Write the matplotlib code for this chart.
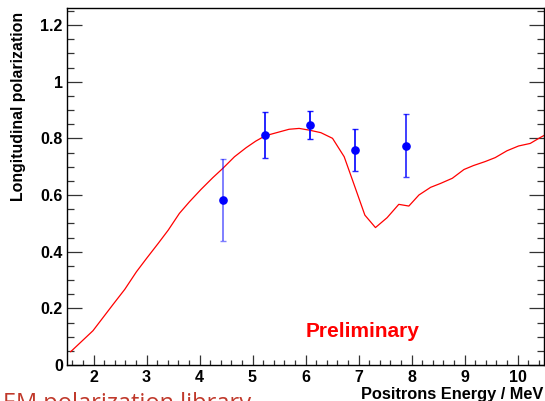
import numpy as np
import matplotlib
matplotlib.use("Agg")
import matplotlib.pyplot as plt
from matplotlib.ticker import MultipleLocator

plt.rcParams['font.family'] = ['Liberation Sans', 'DejaVu Sans']

# simulation curve (red line)
sim_e = [1.57, 1.99, 2.37, 2.59, 2.81, 3.00, 3.22, 3.41, 3.62, 3.81, 4.03, 4.25,
         4.44, 4.66, 4.88, 5.06, 5.24, 5.475, 5.69, 5.88, 6.07, 6.29, 6.51, 6.73,
         6.92, 7.12, 7.32, 7.54, 7.76, 7.95, 8.14, 8.36, 8.55, 8.77, 8.99, 9.17,
         9.39, 9.58, 9.80, 10.02, 10.24, 10.43, 10.5]
sim_pol = [0.047, 0.121, 0.214, 0.267, 0.329, 0.376, 0.429, 0.476, 0.535, 0.576,
           0.620, 0.661, 0.694, 0.735, 0.767, 0.790, 0.809, 0.821, 0.832, 0.835,
           0.829, 0.820, 0.800, 0.735, 0.635, 0.529, 0.485, 0.520, 0.567, 0.561,
           0.600, 0.627, 0.641, 0.659, 0.690, 0.704, 0.718, 0.732, 0.756, 0.773,
           0.782, 0.803, 0.810]

# measured points
meas_e = [4.45, 5.24, 6.09, 6.93, 7.89]
meas_pol = [0.582, 0.812, 0.847, 0.759, 0.774]
meas_err = [0.146, 0.082, 0.051, 0.074, 0.111]
err_alpha = [0.5, 0.85, 0.9, 0.85, 0.75]

fig = plt.figure(figsize=(5.45, 4.01), dpi=100)
ax = fig.add_axes([67 / 545, 36 / 401, 477 / 545, 357 / 401])

ax.plot(sim_e, sim_pol, color='#ff0000', lw=0.9)

for i in range(len(meas_e)):
    ax.errorbar(meas_e[i], meas_pol[i], yerr=meas_err[i], fmt='none',
                ecolor='#0000ff', elinewidth=1.4, capsize=2.2, capthick=1.0,
                alpha=err_alpha[i])
ax.plot(meas_e, meas_pol, 'o', color='#0000ff', ms=5.2, zorder=5)

ax.text(6.0, 0.1, 'Preliminary', color='#ff0000', fontsize=15,
        fontweight='bold', ha='left', va='baseline')

ax.set_xlim(1.5, 10.5)
ax.set_ylim(0, 1.26)
ax.xaxis.set_major_locator(MultipleLocator(1))
ax.xaxis.set_minor_locator(MultipleLocator(0.2))
ax.yaxis.set_major_locator(MultipleLocator(0.2))
ax.yaxis.set_minor_locator(MultipleLocator(0.05))
ax.set_xticks(np.arange(2, 11, 1))
ax.set_xticklabels([str(v) for v in range(2, 11)])
yt = [0, 0.2, 0.4, 0.6, 0.8, 1.0, 1.2]
ax.set_yticks(yt)
ax.set_yticklabels(['0', '0.2', '0.4', '0.6', '0.8', '1', '1.2'])

ax.tick_params(axis='y', which='major', direction='in', length=10.5, width=0.9,
               left=True, right=True, pad=3, labelsize=11.5, color='#333333')
ax.tick_params(axis='y', which='minor', direction='in', length=5, width=0.9,
               left=True, right=True, color='#333333')
ax.tick_params(axis='x', which='major', direction='in', length=7, width=0.9,
               top=False, pad=3.5, labelsize=11.5, color='#333333')
ax.tick_params(axis='x', which='minor', direction='in', length=3.6, width=0.9,
               top=False, color='#333333')
for lab in ax.get_xticklabels() + ax.get_yticklabels():
    lab.set_fontweight('bold')
for sp in ax.spines.values():
    sp.set_linewidth(1.0)

fig.text(543 / 545, 2 / 401, 'Positrons Energy / MeV', fontsize=11.8,
         fontweight='bold', ha='right', va='baseline')
fig.text(19 / 545, (401 - 106) / 401, 'Longitudinal polarization', fontsize=11.4,
         fontweight='bold', rotation=90, ha='center', va='center')

# caption cut by the bottom edge, as in the original slide
fig.text(3 / 545, -9 / 401, 'EM polarization library', color='#c0392b',
         fontsize=17, ha='left', va='baseline', family=['Open Sans', 'DejaVu Sans'])

fig.savefig('out.png', dpi=100)
